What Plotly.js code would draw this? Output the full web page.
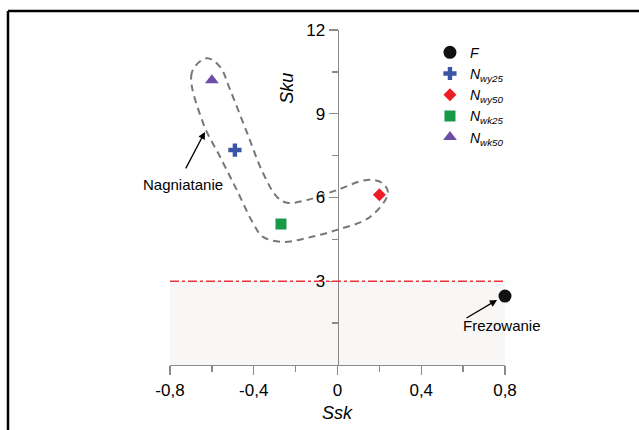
<!DOCTYPE html>
<html>
<head>
<meta charset="utf-8">
<script src="https://cdn.plot.ly/plotly-3.0.1.min.js"></script>
<style>
html,body{margin:0;padding:0;background:#fff;}
#chart{width:639px;height:430px;}
</style>
</head>
<body>
<div id="chart"></div>
<script>
// ---- data ----
const seriesNames = ['<i>F</i>', '<i>N<sub>wy25</sub></i>', '<i>N<sub>wy50</sub></i>', '<i>N<sub>wk25</sub></i>', '<i>N<sub>wk50</sub></i>'];
const sskValues = [0.80, -0.49, 0.20, -0.27, -0.60];
const skuValues = [2.47, 7.70, 6.10, 5.05, 10.20];
const xTickVals = [-0.8, -0.4, 0, 0.4, 0.8];
const xTickText = ['-0,8', '-0,4', '0', '0,4', '0,8'];
const yTickVals = [3, 6, 9, 12];
const yTickText = ['3', '6', '9', '12'];
const skuLimit = 3;
// outline of the "Nagniatanie" group (Ssk, Sku)
const outlineSsk = [-0.625, -0.696, -0.642, -0.561, -0.481, -0.404, -0.356, -0.260, -0.146, -0.002, 0.155, 0.241, 0.213, 0.141, -0.002, -0.146, -0.241, -0.289, -0.356, -0.432, -0.513, -0.561, -0.625];
const outlineSku = [10.99, 10.47, 8.67, 7.46, 6.27, 5.09, 4.59, 4.41, 4.55, 4.84, 5.30, 6.16, 6.52, 6.63, 6.27, 5.91, 5.81, 6.02, 6.88, 8.32, 9.86, 10.68, 10.99];

// ---- styles ----
const symbols = ['circle', 'cross', 'diamond', 'square', 'triangle-up'];
const colors = ['#111111', '#3b55a6', '#ee1c25', '#17994a', '#6b4fa2'];
const sizes = [13, 11, 10, 11, 12];

const traces = [];
traces.push({
  x: outlineSsk, y: outlineSku, mode: 'lines', type: 'scatter',
  line: {shape: 'spline', smoothing: 1.0, dash: '7px,5px', color: '#777777', width: 2},
  showlegend: false, hoverinfo: 'skip'
});
for (let i = 0; i < seriesNames.length; i++) {
  traces.push({
    x: [sskValues[i]], y: [skuValues[i]], type: 'scatter', mode: 'markers',
    name: seriesNames[i],
    marker: {symbol: symbols[i], color: colors[i], size: sizes[i], line: {width: 0}},
    cliponaxis: false
  });
}

const font = 'Liberation Sans, Arial, sans-serif';
const layout = {
  width: 639, height: 430,
  margin: {l: 170, r: 134, t: 30, b: 65},
  paper_bgcolor: '#ffffff', plot_bgcolor: 'rgba(0,0,0,0)',
  font: {family: font, color: '#000', size: 16},
  showlegend: true,
  legend: {x: 0.776, y: 0.98, xanchor: 'left', yanchor: 'top',
           font: {family: font, size: 14, color: '#000'},
           bgcolor: 'rgba(0,0,0,0)', itemwidth: 30, tracegroupgap: 0},
  xaxis: {
    range: [-0.8, 0.8], showgrid: false, zeroline: false,
    showline: true, linecolor: '#8a8a8a', linewidth: 1.3,
    ticks: 'outside', ticklen: 9, tickcolor: '#8a8a8a', tickwidth: 1.3,
    tickmode: 'array', tickvals: xTickVals, ticktext: xTickText,
    tickfont: {size: 17, family: font, color: '#000'},
    minor: {tickmode: 'array', tickvals: [-0.6, -0.2, 0.2, 0.6], ticks: 'outside', ticklen: 6, tickcolor: '#8a8a8a', tickwidth: 1.3},
    fixedrange: true
  },
  yaxis: {
    range: [0, 12], anchor: 'free', position: 0.5, showgrid: false, zeroline: false,
    showline: true, linecolor: '#8a8a8a', linewidth: 1.3,
    ticks: 'outside', ticklen: 9, tickcolor: '#8a8a8a', tickwidth: 1.3,
    tickmode: 'array', tickvals: yTickVals, ticktext: yTickText,
    tickfont: {size: 17, family: font, color: '#000'},
    minor: {tickmode: 'array', tickvals: [1.5, 4.5, 7.5, 10.5], ticks: 'outside', ticklen: 6, tickcolor: '#8a8a8a', tickwidth: 1.3},
    fixedrange: true
  },
  shapes: [
    {type: 'rect', xref: 'x', yref: 'y', x0: -0.8, x1: 0.8, y0: 0, y1: skuLimit,
     fillcolor: '#f8f7f5', line: {width: 0}, layer: 'below'},
    {type: 'line', xref: 'x', yref: 'y', x0: -0.8, x1: 0.8, y0: skuLimit, y1: skuLimit,
     line: {color: '#e8323a', width: 1.3, dash: 'dashdot'}},
    {type: 'line', xref: 'paper', yref: 'paper', x0: -0.4836, x1: -0.4836, y0: -0.25, y1: 1.0567,
     line: {color: '#000', width: 2.5}},
    {type: 'line', xref: 'paper', yref: 'paper', x0: -0.4836, x1: 1.45, y0: 1.0567, y1: 1.0567,
     line: {color: '#000', width: 2.5}}
  ],
  annotations: [
    {xref: 'paper', yref: 'paper', x: 0.349, y: 0.827, xanchor: 'center', yanchor: 'middle',
     text: '<i>Sku</i>', textangle: -90,
     showarrow: false, font: {size: 18, family: font, color: '#000'}},
    {xref: 'paper', yref: 'paper', x: 0.5, y: -0.143, xanchor: 'center', yanchor: 'middle',
     text: '<i>Ssk</i>',
     showarrow: false, font: {size: 18, family: font, color: '#000'}},
    {xref: 'x', yref: 'y', x: -0.633, y: 8.35, ax: -20, ay: 38, text: '',
     showarrow: true, arrowhead: 2, arrowsize: 1.1, arrowwidth: 1.3, arrowcolor: '#000'},
    {xref: 'x', yref: 'y', x: -0.737, y: 6.45, text: 'Nagniatanie', showarrow: false,
     font: {size: 15, family: font, color: '#000'}},
    {xref: 'x', yref: 'y', x: 0.762, y: 2.33, ax: -32, ay: 19, text: '',
     showarrow: true, arrowhead: 2, arrowsize: 1.1, arrowwidth: 1.3, arrowcolor: '#000'},
    {xref: 'x', yref: 'y', x: 0.786, y: 1.40, text: 'Frezowanie', showarrow: false,
     font: {size: 15, family: font, color: '#000'}}
  ]
};

Plotly.newPlot('chart', traces, layout, {staticPlot: true, displayModeBar: false});
</script>
</body>
</html>
